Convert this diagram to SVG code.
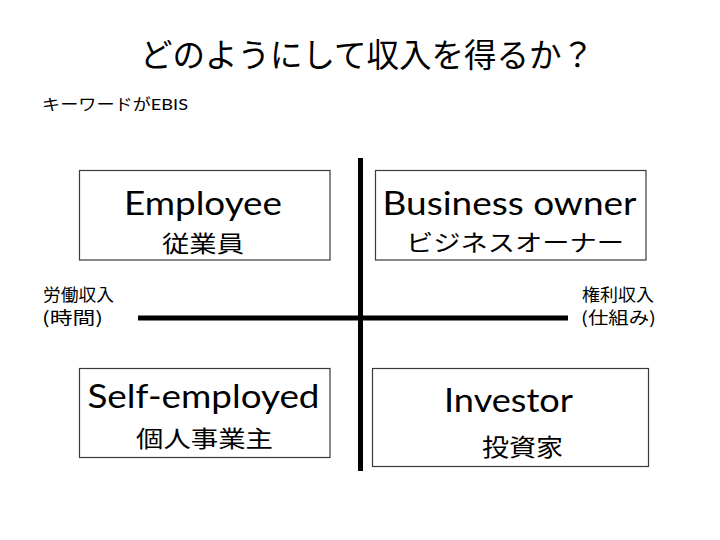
<svg xmlns="http://www.w3.org/2000/svg" width="720" height="540" viewBox="0 0 720 540">
<style>
.box{fill:#fff;stroke:#3a3a3a;stroke-width:1.2}
.lat{font-family:Lato,"Liberation Sans","Noto Sans CJK JP",sans-serif;font-size:32.5px;fill:#000}
.jp{font-family:"Noto Sans CJK JP","Noto Sans",sans-serif;fill:#000}
.axis{stroke:#000;stroke-width:5;fill:none}
</style>
<rect width="720" height="540" fill="#fff"/>
<text class="jp" x="140" y="67" font-size="32.5">どのようにして収入を得るか？</text>
<text class="jp" x="42" y="110" font-size="16" textLength="146" lengthAdjust="spacingAndGlyphs">キーワードが<tspan font-family="Lato, Liberation Sans, sans-serif">EBIS</tspan></text>
<g id="axes">
<line class="axis" x1="360.5" y1="158" x2="360.5" y2="471"/>
<line class="axis" x1="138" y1="318" x2="568" y2="318"/>
</g>
<g id="employee">
<rect class="box" x="79.5" y="170.5" width="250.5" height="89.5"/>
<text class="lat" x="124" y="215" textLength="158" lengthAdjust="spacingAndGlyphs">Employee</text>
<text class="jp" x="162" y="252" font-size="23" textLength="82" lengthAdjust="spacingAndGlyphs">従業員</text>
</g>
<g id="business-owner">
<rect class="box" x="375.5" y="170.5" width="270.5" height="89.5"/>
<text class="lat" x="382.5" y="215" textLength="254" lengthAdjust="spacingAndGlyphs">Business owner</text>
<text class="jp" x="406" y="251" font-size="23" textLength="218" lengthAdjust="spacingAndGlyphs">ビジネスオーナー</text>
</g>
<g id="self-employed">
<rect class="box" x="79.5" y="368.5" width="250.5" height="89"/>
<text class="lat" x="87.5" y="408" textLength="232" lengthAdjust="spacingAndGlyphs">Self-employed</text>
<text class="jp" x="136" y="446.5" font-size="23" textLength="137" lengthAdjust="spacingAndGlyphs">個人事業主</text>
</g>
<g id="investor">
<rect class="box" x="372.5" y="368.5" width="276" height="98"/>
<text class="lat" x="444" y="412" textLength="129" lengthAdjust="spacingAndGlyphs">Investor</text>
<text class="jp" x="482" y="456" font-size="24" textLength="81" lengthAdjust="spacingAndGlyphs">投資家</text>
</g>
<g id="label-labor">
<text class="jp" x="43" y="301" font-size="17" textLength="71" lengthAdjust="spacingAndGlyphs">労働収入</text>
<text class="jp" x="42" y="324" font-size="17" textLength="61" lengthAdjust="spacingAndGlyphs">(時間)</text>
</g>
<g id="label-rights">
<text class="jp" x="582" y="301" font-size="17" textLength="72" lengthAdjust="spacingAndGlyphs">権利収入</text>
<text class="jp" x="581" y="324" font-size="17" textLength="75" lengthAdjust="spacingAndGlyphs">(仕組み)</text>
</g>
</svg>
